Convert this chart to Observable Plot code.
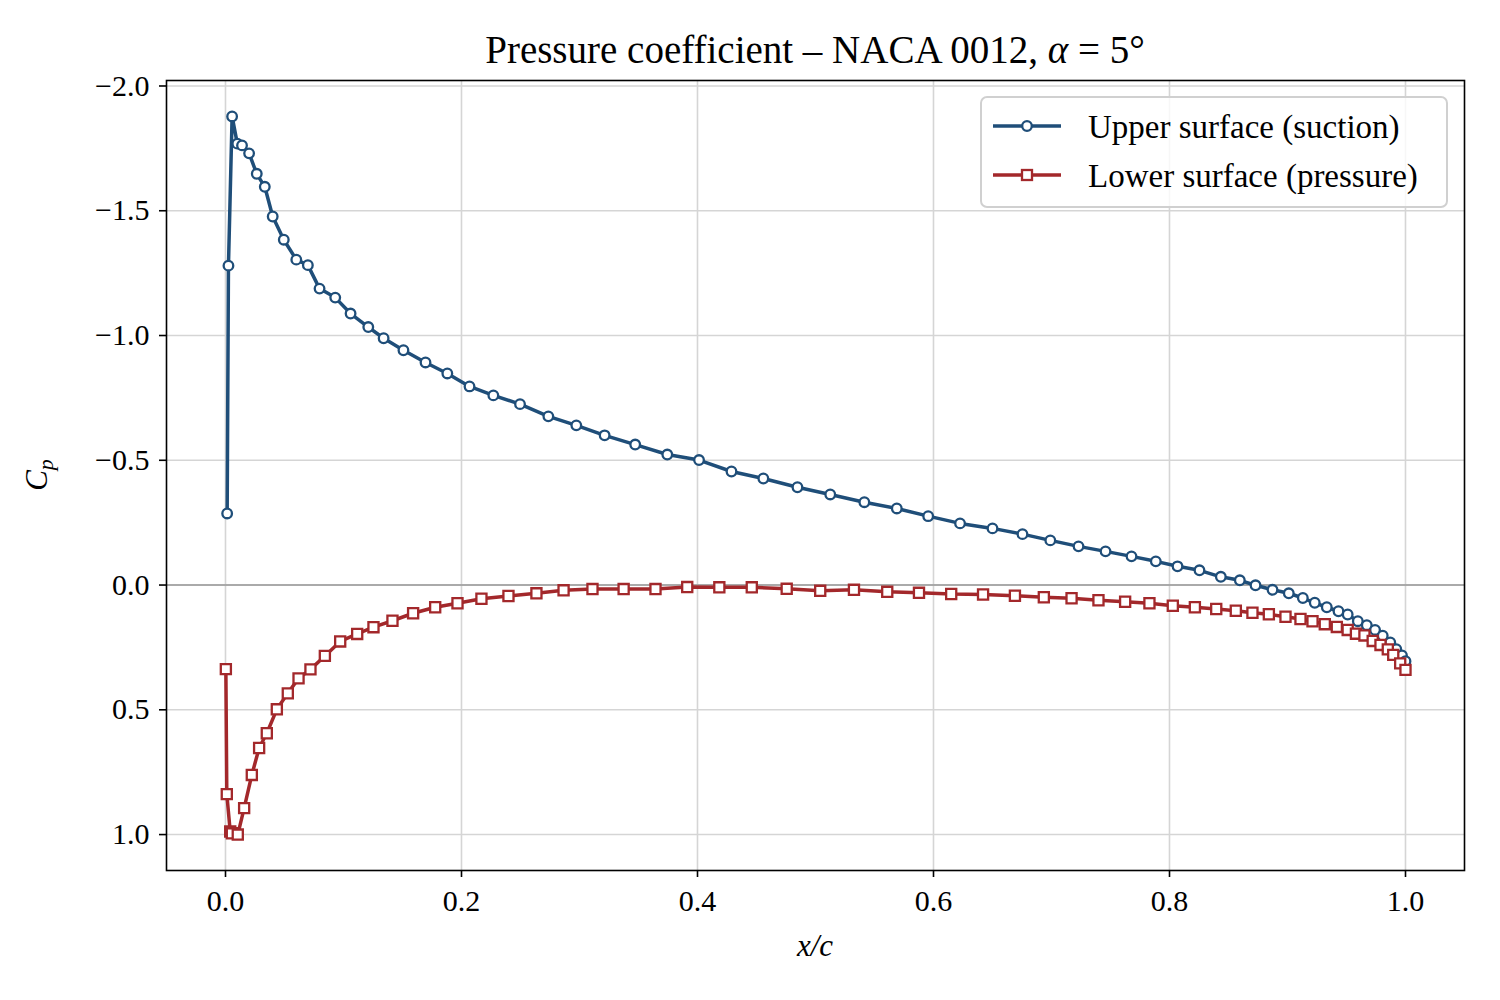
<!DOCTYPE html>
<html>
<head>
<meta charset="utf-8">
<script src="https://cdn.jsdelivr.net/npm/d3@7"></script>
<script src="https://cdn.jsdelivr.net/npm/@observablehq/plot@0.6"></script>
<style>
  html, body { margin: 0; padding: 0; background: #fff; }
  #chart { width: 1500px; height: 1000px; }
</style>
</head>
<body>
<div id="chart"></div>
<script>
// ---- data ----
const upperX = [0.0014, 0.0025, 0.0056, 0.0100, 0.0140, 0.0200, 0.0265, 0.0333, 0.0400, 0.0494,
  0.0600, 0.0698, 0.0797, 0.0930, 0.1060, 0.1210, 0.1340, 0.1508, 0.1695, 0.1880,
  0.2068, 0.2270, 0.2496, 0.2736, 0.2973, 0.3213, 0.3472, 0.3744, 0.4013, 0.4288,
  0.4558, 0.4847, 0.5125, 0.5414, 0.5689, 0.5955, 0.6225, 0.6500, 0.6754, 0.6990,
  0.7229, 0.7458, 0.7678, 0.7884, 0.8068, 0.8254, 0.8435, 0.8596, 0.8729, 0.8873,
  0.9011, 0.9130, 0.9231, 0.9333, 0.9432, 0.9510, 0.9596, 0.9672, 0.9742, 0.9807,
  0.9871, 0.9922, 0.9970, 1.0000];
const upperCp = [-0.287, -1.280, -1.878, -1.769, -1.762, -1.730, -1.648, -1.596, -1.477, -1.384,
  -1.304, -1.282, -1.188, -1.152, -1.088, -1.034, -0.989, -0.941, -0.892, -0.848,
  -0.796, -0.760, -0.725, -0.676, -0.640, -0.600, -0.563, -0.523, -0.501, -0.455,
  -0.427, -0.392, -0.363, -0.332, -0.307, -0.276, -0.247, -0.227, -0.204, -0.179,
  -0.155, -0.135, -0.115, -0.095, -0.075, -0.059, -0.033, -0.019, 0.001, 0.019,
  0.033, 0.052, 0.071, 0.089, 0.105, 0.118, 0.145, 0.161, 0.180, 0.203,
  0.230, 0.257, 0.282, 0.305];

const lowerX = [0.0003, 0.0011, 0.0040, 0.0054, 0.0104, 0.0158, 0.0223, 0.0285, 0.0350, 0.0435,
  0.0528, 0.0619, 0.0720, 0.0842, 0.0972, 0.1116, 0.1254, 0.1415, 0.1590, 0.1777,
  0.1966, 0.2169, 0.2398, 0.2635, 0.2865, 0.3110, 0.3374, 0.3644, 0.3913, 0.4185,
  0.4460, 0.4756, 0.5040, 0.5326, 0.5608, 0.5877, 0.6150, 0.6420, 0.6690, 0.6935,
  0.7170, 0.7398, 0.7624, 0.7830, 0.8028, 0.8215, 0.8396, 0.8562, 0.8703, 0.8842,
  0.8983, 0.9110, 0.9212, 0.9316, 0.9418, 0.9510, 0.9580, 0.9652, 0.9722, 0.9788,
  0.9850, 0.9896, 0.9955, 1.0000];
const lowerCp = [0.337, 0.838, 0.988, 0.995, 1.000, 0.894, 0.761, 0.653, 0.594, 0.498,
  0.434, 0.374, 0.338, 0.284, 0.226, 0.196, 0.169, 0.143, 0.113, 0.089,
  0.073, 0.055, 0.044, 0.033, 0.021, 0.016, 0.016, 0.016, 0.008, 0.009,
  0.009, 0.015, 0.023, 0.019, 0.027, 0.031, 0.036, 0.038, 0.043, 0.049,
  0.053, 0.061, 0.067, 0.073, 0.083, 0.089, 0.096, 0.103, 0.111, 0.117,
  0.127, 0.136, 0.145, 0.157, 0.168, 0.180, 0.195, 0.202, 0.224, 0.240,
  0.258, 0.280, 0.314, 0.340];

const xTicks = [0, 0.2, 0.4, 0.6, 0.8, 1.0];
const yTicks = [-2.0, -1.5, -1.0, -0.5, 0.0, 0.5, 1.0];
const seriesNames = ["Upper surface (suction)", "Lower surface (pressure)"];
const titleText = "Pressure coefficient \u2013 NACA 0012, ";

// ---- styling ----
const BLUE = "#1f4e79";
const RED = "#a3282b";
const FONT = "'Liberation Serif', 'DejaVu Serif', serif";
const fmt = d => d.toFixed(1).replace("-", "\u2212");

const upper = upperX.map((x, i) => ({x, cp: upperCp[i]}));
const lower = lowerX.map((x, i) => ({x, cp: lowerCp[i]}));

const plot = Plot.plot({
  width: 1500,
  height: 1000,
  marginLeft: 166,
  marginRight: 36,
  marginTop: 80,
  marginBottom: 130,
  style: {fontFamily: FONT, fontSize: "30px", background: "#fff", color: "#000"},
  x: {domain: [-0.05, 1.05]},
  y: {domain: [-2.022, 1.144], reverse: true},
  marks: [
    Plot.gridX(xTicks, {stroke: "#d5d5d5", strokeOpacity: 1, strokeWidth: 1.6}),
    Plot.gridY(yTicks, {stroke: "#d5d5d5", strokeOpacity: 1, strokeWidth: 1.6}),
    Plot.ruleY([0], {stroke: "#999", strokeWidth: 1.6}),
    Plot.line(upper, {x: "x", y: "cp", stroke: BLUE, strokeWidth: 3.5}),
    Plot.dot(upper, {x: "x", y: "cp", r: 4.8, stroke: BLUE, fill: "#fff", strokeWidth: 2.3}),
    Plot.line(lower, {x: "x", y: "cp", stroke: RED, strokeWidth: 3.5}),
    Plot.dot(lower, {x: "x", y: "cp", symbol: "square", r: 5.7, stroke: RED, fill: "#fff", strokeWidth: 2.3}),
    Plot.frame({stroke: "#000", strokeWidth: 1.6}),
    Plot.axisX(xTicks, {tickSize: 7, tickPadding: 12, tickFormat: fmt, fontSize: 30, label: null, strokeWidth: 1.6}),
    Plot.axisY(yTicks, {tickSize: 7, tickPadding: 10, tickFormat: fmt, fontSize: 30, label: null, strokeWidth: 1.6})
  ]
});

document.getElementById("chart").appendChild(plot);

// ---- title, axis labels and legend as text / decorations ----
const svg = d3.select(plot);
const cx = (166 + 1464) / 2;

const title = svg.append("text")
  .attr("x", cx).attr("y", 63)
  .attr("text-anchor", "middle")
  .style("font-family", FONT).style("font-size", "39px").attr("fill", "#000");
title.append("tspan").text(titleText);
title.append("tspan").attr("font-style", "italic").text("\u03b1");
title.append("tspan").text(" = 5\u00b0");

svg.append("text")
  .attr("x", cx).attr("y", 956)
  .attr("text-anchor", "middle")
  .style("font-family", FONT).style("font-size", "31px").attr("font-style", "italic")
  .attr("fill", "#000")
  .text("x/c");

const yl = svg.append("text")
  .attr("transform", "translate(47,475) rotate(-90)")
  .attr("text-anchor", "middle")
  .style("font-family", FONT).style("font-size", "31px").attr("font-style", "italic")
  .attr("fill", "#000");
yl.append("tspan").text("C");
yl.append("tspan").attr("dy", 6).style("font-size", "22px").text("p");

const lg = svg.append("g");
lg.append("rect").attr("x", 981).attr("y", 97).attr("width", 466).attr("height", 110)
  .attr("rx", 6).attr("fill", "#fff").attr("fill-opacity", 0.8)
  .attr("stroke", "#d0d0d0").attr("stroke-width", 2);
const entries = [
  {name: seriesNames[0], color: BLUE, sym: "circle", y: 126},
  {name: seriesNames[1], color: RED, sym: "square", y: 175}
];
for (const e of entries) {
  lg.append("line").attr("x1", 993).attr("x2", 1061).attr("y1", e.y).attr("y2", e.y)
    .attr("stroke", e.color).attr("stroke-width", 3.5);
  if (e.sym === "circle") {
    lg.append("circle").attr("cx", 1027).attr("cy", e.y).attr("r", 4.8)
      .attr("fill", "#fff").attr("stroke", e.color).attr("stroke-width", 2.3);
  } else {
    lg.append("rect").attr("x", 1027 - 5).attr("y", e.y - 5).attr("width", 10).attr("height", 10)
      .attr("fill", "#fff").attr("stroke", e.color).attr("stroke-width", 2.3);
  }
  lg.append("text").attr("x", 1088).attr("y", e.y).attr("dy", "0.35em")
    .attr("text-anchor", "start")
    .style("font-family", FONT).style("font-size", "33px").attr("fill", "#000")
    .text(e.name);
}
</script>
</body>
</html>
